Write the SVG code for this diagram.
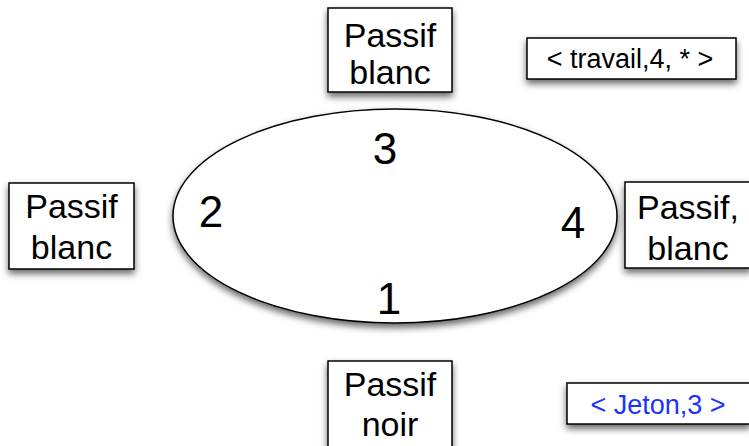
<svg xmlns="http://www.w3.org/2000/svg" width="749" height="446" viewBox="0 0 749 446">
  <defs>
    <filter id="shadow" x="-20%" y="-20%" width="140%" height="160%">
      <feDropShadow dx="0" dy="4" stdDeviation="3.5" flood-color="#000" flood-opacity="0.6"/>
    </filter>
  </defs>
  <style>
    .box { fill: #ffffff; stroke: #000000; stroke-width: 1.5; filter: url(#shadow); }
    .lbl { font-family: "Liberation Sans", Arial, sans-serif; font-size: 34px; fill: #000; text-anchor: middle; }
    .tag { font-family: "Liberation Sans", Arial, sans-serif; font-size: 27px; fill: #000; text-anchor: middle; }
    .blue { fill: #1a33ff; }
    .num { font-family: "Liberation Sans", Arial, sans-serif; font-size: 44px; fill: #000; text-anchor: middle; }
  </style>
  <rect width="749" height="446" fill="#ffffff"/>

  <g id="ring">
    <ellipse class="box" cx="395" cy="216" rx="222" ry="107"/>
    <text class="num" x="385" y="164">3</text>
    <text class="num" x="211" y="227">2</text>
    <text class="num" x="573" y="238">4</text>
    <text class="num" x="389" y="314">1</text>
  </g>

  <g id="node-top">
    <rect class="box" x="328" y="8" width="124" height="84"/>
    <text class="lbl" x="390" y="47">Passif</text>
    <text class="lbl" x="390" y="84">blanc</text>
  </g>

  <g id="node-left">
    <rect class="box" x="9" y="183" width="125" height="86"/>
    <text class="lbl" x="71.5" y="218">Passif</text>
    <text class="lbl" x="71.5" y="259">blanc</text>
  </g>

  <g id="node-right">
    <rect class="box" x="625" y="182" width="126" height="86"/>
    <text class="lbl" x="688" y="219">Passif,</text>
    <text class="lbl" x="688" y="260">blanc</text>
  </g>

  <g id="node-bottom">
    <rect class="box" x="328" y="361" width="124" height="95"/>
    <text class="lbl" x="390" y="396">Passif</text>
    <text class="lbl" x="390" y="436">noir</text>
  </g>

  <g id="msg-travail">
    <rect class="box" x="527" y="38" width="209" height="41"/>
    <text class="tag" x="630" y="68">&lt; travail,4, * &gt;</text>
  </g>

  <g id="msg-jeton">
    <rect class="box" x="567" y="383" width="183" height="41"/>
    <text class="tag blue" x="658" y="414">&lt; Jeton,3 &gt;</text>
  </g>

  <g id="connectors"></g>
</svg>
